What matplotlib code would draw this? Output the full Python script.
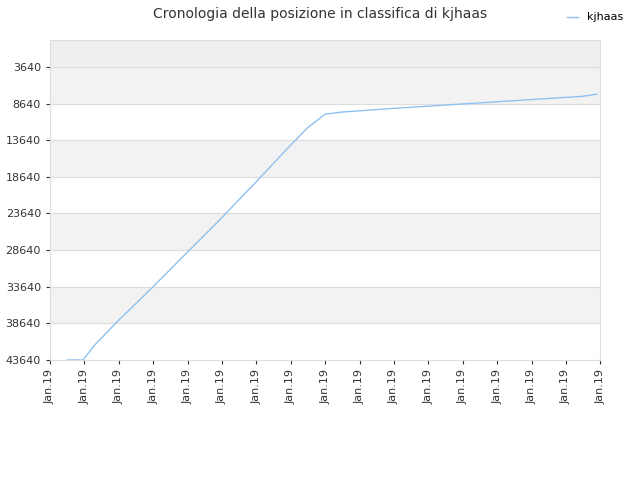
import matplotlib
matplotlib.use("Agg")
import matplotlib.pyplot as plt

x_vals = [0.52, 0.96, 1.3, 2.0, 2.9, 4.0, 5.0, 6.0, 7.0, 7.5, 8.0, 8.5, 10.0, 12.0, 14.0, 15.5, 15.9]
ranks = [43640, 43640, 41600, 38200, 34100, 28900, 24200, 19300, 14300, 11900, 10100, 9800, 9300, 8700, 8100, 7650, 7350]
yticks = [3640, 8640, 13640, 18640, 23640, 28640, 33640, 38640, 43640]
xlabels = ["Jan.19"] * 17

fig = plt.figure(figsize=(6.4, 4.8), dpi=100)
ax = fig.add_axes([0.078, 0.25, 0.86, 0.667])
ax.set_ylim(43640, -50)
ax.set_xlim(0, 16)
ax.axhspan(-50, 3640, color="#eeeeee", zorder=0)
for i in range(len(yticks) - 1):
    if i % 2 == 0:
        ax.axhspan(yticks[i], yticks[i + 1], color="#f2f2f2", zorder=0)
for t in yticks:
    ax.axhline(t, color="#dddddd", lw=0.8, zorder=1)
ax.plot(x_vals, ranks, color="#8fc1f0", lw=1, label="kjhaas", zorder=3)
ax.set_yticks(yticks)
ax.set_yticklabels([str(t) for t in yticks])
ax.set_xticks(range(17))
ax.set_xticklabels(xlabels, rotation=90)
ax.tick_params(labelsize=8, colors="#333333", length=3)
for s in ax.spines.values():
    s.set_color("#dddddd")
fig.suptitle("Cronologia della posizione in classifica di kjhaas", fontsize=10, color="#333333", y=0.985)
fig.legend(loc="upper right", bbox_to_anchor=(0.99, 0.995), frameon=False, fontsize=8, handlelength=1)
fig.savefig("out.png")
